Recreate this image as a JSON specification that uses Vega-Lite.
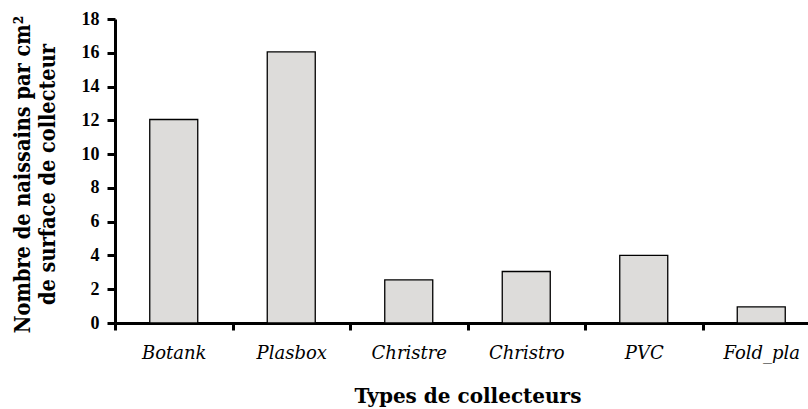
{
  "$schema": "https://vega.github.io/schema/vega-lite/v6.json",
  "autosize": {"type": "none"},
  "padding": {"left": 115, "top": 19, "right": 0, "bottom": 86},
  "width": 705,
  "height": 304,
  "background": "white",
  "config": {"view": {"stroke": null}},
  "data": {
    "values": [
      {"type": "Botank", "value": 12.05},
      {"type": "Plasbox", "value": 16.05},
      {"type": "Christre", "value": 2.55},
      {"type": "Christro", "value": 3.05},
      {"type": "PVC", "value": 4.0},
      {"type": "Fold_pla", "value": 0.95}
    ]
  },
  "mark": {"type": "bar", "width": 48, "fill": "#dddcda", "stroke": "black", "strokeWidth": 1.3},
  "encoding": {
    "x": {
      "field": "type",
      "type": "nominal",
      "sort": null,
      "scale": {"paddingInner": 0, "paddingOuter": 0},
      "axis": {
        "title": "Types de collecteurs",
        "titleFont": "DejaVu Serif",
        "titleFontSize": 20,
        "titleFontWeight": "bold",
        "titleColor": "black",
        "titleBaseline": "alphabetic",
        "titleY": 79,
        "labelAngle": 0,
        "labelFont": "DejaVu Serif",
        "labelFontStyle": "italic",
        "labelFontWeight": "normal",
        "labelFontSize": 18,
        "labelColor": "black",
        "labelBaseline": "alphabetic",
        "labelPadding": 28,
        "tickBand": "extent",
        "tickSize": 7,
        "tickWidth": 3,
        "tickColor": "black",
        "domainColor": "black",
        "domainWidth": 3
      }
    },
    "y": {
      "field": "value",
      "type": "quantitative",
      "scale": {"domain": [0, 18], "nice": false},
      "axis": {
        "title": ["Nombre de naissains par cm²", "de surface de collecteur"],
        "titleFont": "DejaVu Serif Condensed, DejaVu Serif",
        "titleFontSize": 21.5,
        "titleFontWeight": "bold",
        "titleColor": "black",
        "titleBaseline": "alphabetic",
        "titleLineHeight": 25,
        "titleX": -86,
        "titleY": 155,
        "titleLimit": 400,
        "values": [0, 2, 4, 6, 8, 10, 12, 14, 16, 18],
        "grid": false,
        "labelFont": "Liberation Serif",
        "labelFontWeight": "bold",
        "labelFontSize": 18,
        "labelColor": "black",
        "labelPadding": 8,
        "tickSize": 8,
        "tickWidth": 3,
        "tickColor": "black",
        "domainColor": "black",
        "domainWidth": 3
      }
    }
  }
}
